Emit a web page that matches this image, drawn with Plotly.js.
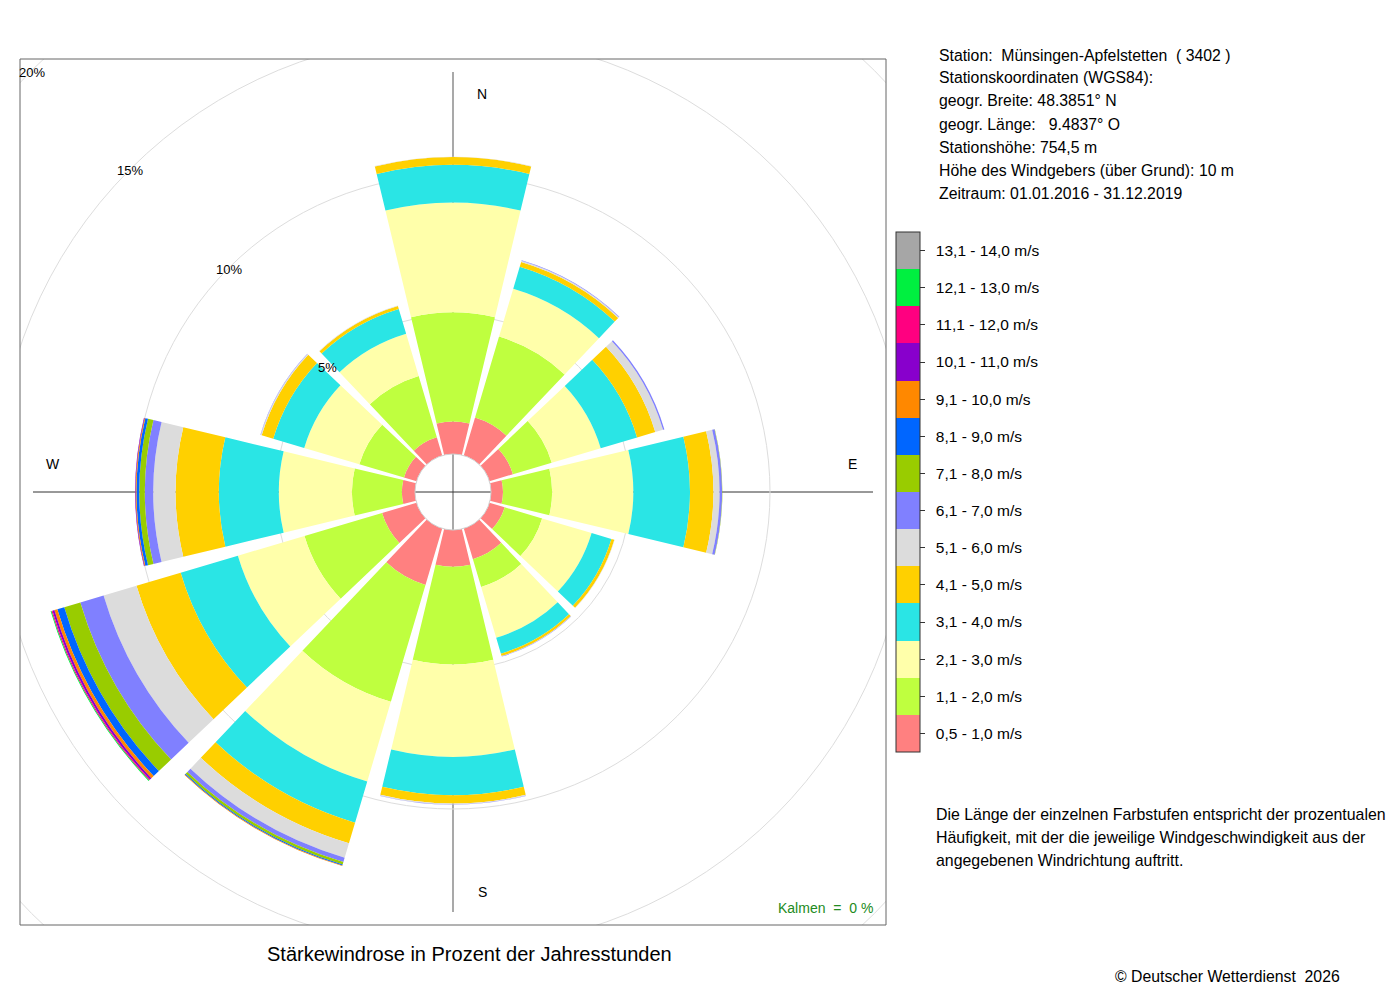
<!DOCTYPE html>
<html>
<head>
<meta charset="utf-8">
<script src="https://cdn.plot.ly/plotly-3.0.1.min.js"></script>
<style>html,body{margin:0;padding:0;background:#fff;}</style>
</head>
<body>
<div id="chart" style="width:1400px;height:1000px;"></div>
<script>
// Wind directions (degrees, clockwise from north)
var directions = [0, 30, 60, 90, 120, 150, 180, 210, 240, 270, 300, 330];

// Speed classes (legend labels, bottom to top)
var classLabels = ["0,5 - 1,0 m/s", "1,1 - 2,0 m/s", "2,1 - 3,0 m/s", "3,1 - 4,0 m/s",
  "4,1 - 5,0 m/s", "5,1 - 6,0 m/s", "6,1 - 7,0 m/s", "7,1 - 8,0 m/s", "8,1 - 9,0 m/s",
  "9,1 - 10,0 m/s", "10,1 - 11,0 m/s", "11,1 - 12,0 m/s", "12,1 - 13,0 m/s", "13,1 - 14,0 m/s"];

var classColors = ["#FF8080", "#BFFF3F", "#FFFFAA", "#2AE5E5", "#FFD000", "#DCDCDC",
  "#8080FF", "#99CC00", "#0066FF", "#FF8800", "#8800CC", "#FF0080", "#00F040", "#A6A6A6"];

// Percent of hours per direction, per speed class
var s05_10  = [1.16, 1.42, 0.88, 0.43, 0.57, 1.15, 1.32, 2.11, 1.29, 0.47, 0.47, 0.68];
var s11_20  = [3.92, 3.03, 1.45, 1.76, 1.40, 1.04, 3.50, 4.37, 2.90, 1.79, 1.67, 2.29];
var s21_30  = [3.93, 1.79, 1.83, 2.91, 1.85, 1.90, 3.31, 2.98, 2.49, 2.62, 2.06, 1.58];
var s31_40  = [1.35, 0.82, 1.36, 2.03, 0.74, 0.59, 1.37, 1.54, 2.14, 2.15, 1.16, 0.93];
var s41_50  = [0.28, 0.18, 0.68, 0.84, 0.11, 0.09, 0.30, 0.77, 1.65, 1.55, 0.43, 0.11];
var s51_60  = [0.01, 0.04, 0.29, 0.22, 0.01, 0.01, 0.03, 0.54, 1.23, 0.80, 0.04, 0.02];
var s61_70  = [0.00, 0.02, 0.05, 0.09, 0.00, 0.01, 0.01, 0.16, 0.87, 0.30, 0.01, 0.00];
var s71_80  = [0.00, 0.00, 0.00, 0.01, 0.00, 0.00, 0.00, 0.09, 0.60, 0.20, 0.00, 0.00];
var s81_90  = [0.00, 0.00, 0.00, 0.00, 0.00, 0.00, 0.00, 0.04, 0.26, 0.10, 0.00, 0.00];
var s91_100 = [0.00, 0.00, 0.00, 0.00, 0.00, 0.00, 0.00, 0.02, 0.11, 0.03, 0.00, 0.00];
var s101_110 = [0.00, 0.00, 0.00, 0.00, 0.00, 0.00, 0.00, 0.00, 0.07, 0.02, 0.00, 0.00];
var s111_120 = [0.00, 0.00, 0.00, 0.00, 0.00, 0.00, 0.00, 0.00, 0.04, 0.00, 0.00, 0.00];
var s121_130 = [0.00, 0.00, 0.00, 0.00, 0.00, 0.00, 0.00, 0.00, 0.03, 0.00, 0.00, 0.00];
var s131_140 = [0.00, 0.00, 0.00, 0.00, 0.00, 0.00, 0.00, 0.00, 0.00, 0.00, 0.00, 0.00];

var seriesValues = [s05_10, s11_20, s21_30, s31_40, s41_50, s51_60, s61_70, s71_80,
  s81_90, s91_100, s101_110, s111_120, s121_130, s131_140];

var gridPercents = [5, 10, 15, 20];
var gridLabels = ["5%", "10%", "15%", "20%"];

var stationLines = [
  "Station:\u00A0 Münsingen-Apfelstetten\u00A0 ( 3402 )",
  "Stationskoordinaten (WGS84):",
  "geogr. Breite: 48.3851° N",
  "geogr. Länge:\u00A0\u00A0 9.4837° O",
  "Stationshöhe: 754,5 m",
  "Höhe des Windgebers (über Grund): 10 m",
  "Zeitraum: 01.01.2016 - 31.12.2019"
];
var noteLines = [
  "Die Länge der einzelnen Farbstufen entspricht der prozentualen",
  "Häufigkeit, mit der die jeweilige Windgeschwindigkeit aus der",
  "angegebenen Windrichtung auftritt."
];

// ---- geometry (layout only) ----
var W = 1400, H = 1000;
var BOX = {x0: 20, x1: 886, y0: 59, y1: 925};
var R_OUT = (BOX.x1 - BOX.x0) / 2;   // 433 px
var HOLE_PX = 38;
var PX_PER_PCT = 27.9;
var RMAX = (R_OUT - HOLE_PX) / PX_PER_PCT;
var FONT = "Liberation Sans, Arial, Helvetica, sans-serif";

function px(p) { return HOLE_PX + PX_PER_PCT * p; }
function pxX(x) { return x / W; }
function pxY(y) { return 1 - y / H; }

var dom = {x: [pxX(BOX.x0), pxX(BOX.x1)], y: [pxY(BOX.y1), pxY(BOX.y0)]};

var traces = [];
for (var i = 0; i < seriesValues.length; i++) {
  traces.push({
    type: "barpolar",
    r: seriesValues[i],
    theta: directions,
    width: 27,
    name: classLabels[i],
    marker: {color: classColors[i], line: {width: 0}},
    hoverinfo: "skip",
    showlegend: false
  });
}

// discrete colorscale for the legend colour bar
var cscale = [];
for (var k = 0; k < classColors.length; k++) {
  cscale.push([k / classColors.length, classColors[k]]);
  cscale.push([(k + 1) / classColors.length, classColors[k]]);
}
var tickv = classLabels.map(function (_, j) { return j + 0.5; });
var tickt = classLabels.map(function (s) { return "\u2002" + s; });

traces.push({
  type: "scatter",
  mode: "markers",
  x: [99999], y: [99999],
  xaxis: "x", yaxis: "y",
  hoverinfo: "skip",
  showlegend: false,
  marker: {
    color: [0], cmin: 0, cmax: classColors.length, colorscale: cscale,
    opacity: 0, showscale: true,
    colorbar: {
      x: pxX(896), xanchor: "left", xref: "paper",
      y: pxY(492), yanchor: "middle", yref: "paper",
      len: 520, lenmode: "pixels",
      thickness: 24, thicknessmode: "pixels",
      xpad: 0, ypad: 0,
      outlinewidth: 1, outlinecolor: "#333",
      tickmode: "array", tickvals: tickv, ticktext: tickt,
      ticks: "outside", ticklen: 5, tickcolor: "#333", tickwidth: 1,
      tickfont: {family: FONT, size: 15.5, color: "#000"}
    }
  }
});

var shapes = [];
// cross lines
shapes.push({type: "line", xref: "x", yref: "y", x0: 0, x1: 0, y0: -420, y1: 420,
  line: {color: "#8c8c8c", width: 1.5}, layer: "below"});
shapes.push({type: "line", xref: "x", yref: "y", x0: -420, x1: 420, y0: 0, y1: 0,
  line: {color: "#333", width: 1}, layer: "below"});
// outer grid circles beyond polar range (clipped to the box)
gridPercents.forEach(function (p) {
  if (p > RMAX) {
    var r = px(p);
    shapes.push({type: "circle", xref: "x", yref: "y", x0: -r, x1: r, y0: -r, y1: r,
      line: {color: "#dddddd", width: 1}, layer: "below"});
  }
});
// hole outline
shapes.push({type: "circle", xref: "x", yref: "y", x0: -HOLE_PX, x1: HOLE_PX, y0: -HOLE_PX, y1: HOLE_PX,
  line: {color: "#d0d0d0", width: 1}, layer: "above"});
// frame
shapes.push({type: "rect", xref: "paper", yref: "paper", x0: dom.x[0], x1: dom.x[1], y0: dom.y[0], y1: dom.y[1],
  line: {color: "#666", width: 1}, layer: "above"});

var ann = [];
// percent labels on the NW diagonal
gridPercents.forEach(function (p, j) {
  var d = px(p) / Math.SQRT2;
  ann.push({xref: "x", yref: "y", x: -d, y: d - 1.5, text: gridLabels[j], showarrow: false,
    xanchor: "center", yanchor: "middle", font: {family: FONT, size: 13, color: "#000"}});
});
// compass labels
var compass = [["N", 29, 398], ["E", 399, 28], ["S", 29, -400], ["W", -400, 28]];
compass.forEach(function (c) {
  ann.push({xref: "x", yref: "y", x: c[1], y: c[2], text: c[0], showarrow: false,
    xanchor: "center", yanchor: "middle", font: {family: FONT, size: 14, color: "#000"}});
});
// station info
stationLines.forEach(function (t, j) {
  ann.push({xref: "paper", yref: "paper", x: pxX(937), y: pxY(55 + 23 * j), text: t, showarrow: false,
    xanchor: "left", yanchor: "middle", font: {family: FONT, size: 15.8, color: "#000"}});
});
noteLines.forEach(function (t, j) {
  ann.push({xref: "paper", yref: "paper", x: pxX(934), y: pxY(814 + 23 * j), text: t, showarrow: false,
    xanchor: "left", yanchor: "middle", font: {family: FONT, size: 15.9, color: "#000"}});
});
ann.push({xref: "paper", yref: "paper", x: pxX(875), y: pxY(908), text: "Kalmen\u00A0 =\u00A0 0 %", showarrow: false,
  xanchor: "right", yanchor: "middle", font: {family: FONT, size: 14, color: "#228B22"}});
ann.push({xref: "paper", yref: "paper", x: pxX(470), y: pxY(954), text: "Stärkewindrose in Prozent der Jahresstunden",
  showarrow: false, xanchor: "center", yanchor: "middle", font: {family: FONT, size: 20, color: "#000"}});
ann.push({xref: "paper", yref: "paper", x: pxX(1342), y: pxY(976), text: "© Deutscher Wetterdienst\u00A0 2026",
  showarrow: false, xanchor: "right", yanchor: "middle", font: {family: FONT, size: 15.8, color: "#000"}});

var layout = {
  width: W, height: H,
  margin: {l: 0, r: 0, t: 0, b: 0, pad: 0},
  paper_bgcolor: "#fff",
  plot_bgcolor: "#fff",
  showlegend: false,
  font: {family: FONT, size: 14, color: "#000"},
  xaxis: {domain: dom.x, range: [-R_OUT, R_OUT], visible: false, fixedrange: true},
  yaxis: {domain: dom.y, range: [-R_OUT, R_OUT], visible: false, fixedrange: true},
  polar: {
    domain: dom,
    hole: HOLE_PX / R_OUT,
    bgcolor: "rgba(0,0,0,0)",
    barmode: "stack",
    radialaxis: {
      range: [0, RMAX], tickmode: "array", tickvals: gridPercents.filter(function (p) { return p < RMAX; }),
      showticklabels: false, ticks: "", showline: false,
      showgrid: true, gridcolor: "#dddddd", gridwidth: 1
    },
    angularaxis: {
      rotation: 90, direction: "clockwise",
      showticklabels: false, ticks: "", showline: false, showgrid: false
    }
  },
  shapes: shapes,
  annotations: ann
};

Plotly.newPlot("chart", traces, layout, {staticPlot: true, displayModeBar: false});
</script>
</body>
</html>
